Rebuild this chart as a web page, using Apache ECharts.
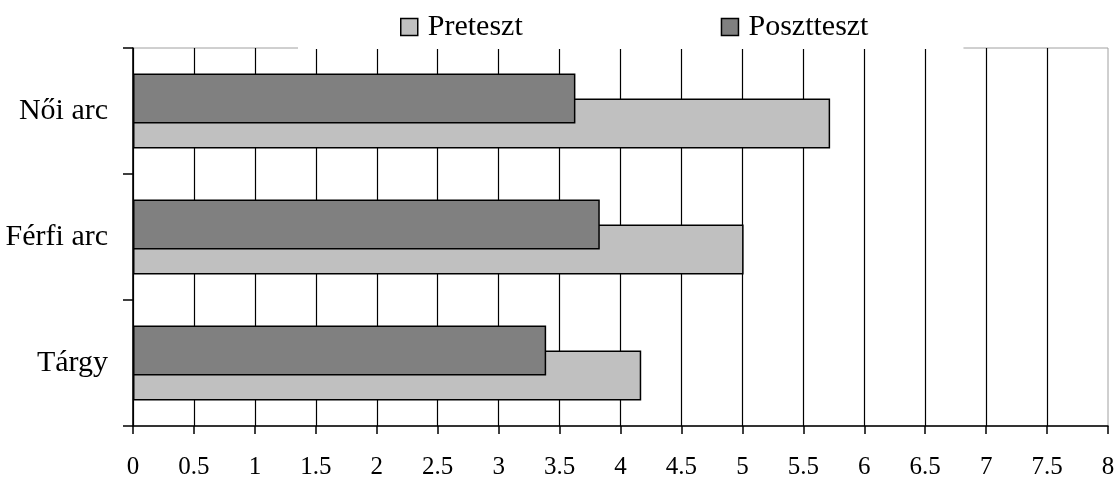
<!DOCTYPE html>
<html>
<head>
<meta charset="utf-8">
<script src="https://cdn.jsdelivr.net/npm/echarts@6/dist/echarts.min.js"></script>
<style>
  html, body { margin: 0; padding: 0; background: #fff; }
  #chart { width: 1118px; height: 481px; }
</style>
</head>
<body>
<div id="chart"></div>
<script>
// Categories listed bottom to top (value axis runs upward on a category y axis)
const categories = ['Tárgy', 'Férfi arc', 'Női arc'];
const seriesNames = ['Preteszt', 'Posztteszt'];
const pretest = [4.17, 5.01, 5.72];
const posttest = [3.39, 3.83, 3.63];
const xTicks = { min: 0, max: 8, step: 0.5 };

const FONT = '"Liberation Serif", "Times New Roman", serif';

const chart = echarts.init(document.getElementById('chart'), null, { renderer: 'canvas' });

chart.setOption({
  animation: false,
  backgroundColor: '#fff',
  textStyle: { fontFamily: FONT, color: '#000' },
  grid: {
    left: 133, right: 10, top: 48, bottom: 55,
    show: true, borderColor: '#a0a0a0', borderWidth: 1, backgroundColor: 'transparent'
  },
  legend: {
    data: seriesNames,
    left: 298, top: 0,
    padding: [10, 95, 5, 102],
    backgroundColor: '#fff',
    itemWidth: 17, itemHeight: 17, itemGap: 198,
    icon: 'rect',
    itemStyle: { borderColor: '#000', borderWidth: 1.5 },
    textStyle: { fontFamily: FONT, fontSize: 30, color: '#000', lineHeight: 34, padding: [0, 0, 0, 5] },
    selectedMode: false
  },
  xAxis: {
    type: 'value',
    min: xTicks.min, max: xTicks.max, interval: xTicks.step,
    axisLine: { show: true, onZero: false, lineStyle: { color: '#000', width: 1.5 } },
    axisTick: { show: true, length: 8, lineStyle: { color: '#000', width: 1.5 } },
    axisLabel: { fontFamily: FONT, fontSize: 25, color: '#000', margin: 29 },
    splitLine: { show: true, showMaxLine: false, lineStyle: { color: '#000', width: 1.2 } }
  },
  yAxis: {
    type: 'category',
    data: categories,
    axisLine: { show: true, lineStyle: { color: '#000', width: 1.5 } },
    axisTick: { show: true, length: 10, lineStyle: { color: '#000', width: 1.5 } },
    axisLabel: { fontFamily: FONT, fontSize: 30, color: '#000', margin: 25 },
    splitLine: { show: false }
  },
  // Posttest bars sit in the upper half of each band and are painted over the pretest bars
  series: [
    {
      name: 'Posztteszt', type: 'bar', data: posttest, z: 3,
      barWidth: 50, barGap: '-50%',
      itemStyle: { color: '#808080', borderColor: '#000', borderWidth: 1.5 }
    },
    {
      name: 'Preteszt', type: 'bar', data: pretest, z: 2,
      barWidth: 50, barGap: '-50%',
      itemStyle: { color: '#c0c0c0', borderColor: '#000', borderWidth: 1.5 }
    }
  ]
});
</script>
</body>
</html>
